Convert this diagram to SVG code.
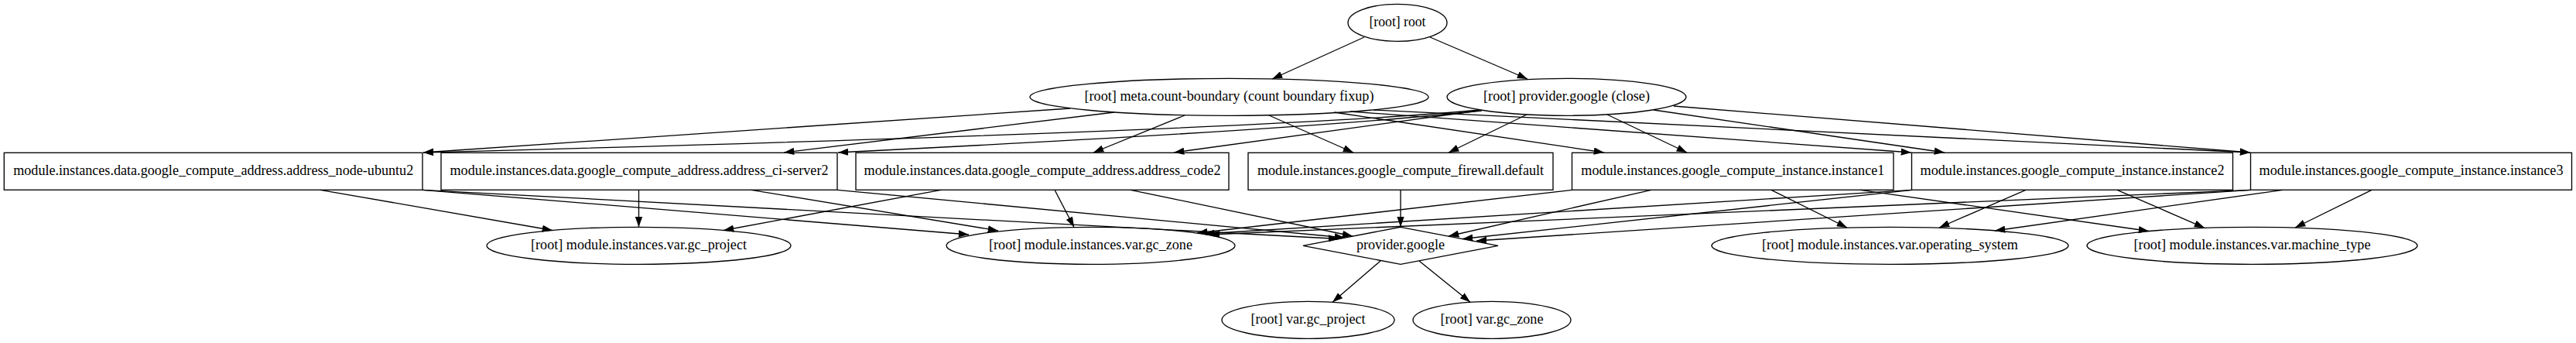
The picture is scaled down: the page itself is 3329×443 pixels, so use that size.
<svg xmlns="http://www.w3.org/2000/svg" width="3329" height="443" viewBox="0 0 3329 443">
<style>
.n ellipse,.n rect,.n polygon{fill:none;stroke:#000;stroke-width:1.33}
.n text{font-family:"Liberation Serif",Times,serif;font-size:18.67px;text-anchor:middle;fill:#000}
.e path{fill:none;stroke:#000;stroke-width:1.33;marker-end:url(#ah)}
</style>
<defs>
<marker id="ah" markerUnits="userSpaceOnUse" viewBox="0 0 13.3 9.3" markerWidth="13.3" markerHeight="9.3" refX="13.3" refY="4.65" orient="auto">
<path d="M0,0 L13.3,4.65 L0,9.3 z" fill="#000"/>
</marker>
</defs>
<rect width="3329" height="443" fill="#fff"/>
<g id="edges" class="e">
<path d="M1763,48 L1644,102"/>
<path d="M1848,48 L1974,102"/>
<path d="M1383,140 L547,197"/>
<path d="M1912,142 C1700,162 1200,180 547,197"/>
<path d="M1440,145 L1013,197"/>
<path d="M1915,143 C1700,166 1300,186 1083,197"/>
<path d="M1531,149 L1413,197"/>
<path d="M1910,143 L1517,197"/>
<path d="M1640,149 L1749,197"/>
<path d="M1973,148 L1872,197"/>
<path d="M1724,145 L2073,197"/>
<path d="M2077,148 L2180,197"/>
<path d="M1745,144 L2470,197"/>
<path d="M2137,142 L2513,197"/>
<path d="M1775,142 L2908,197"/>
<path d="M2163,137 L2908,197"/>
<path d="M414,245.3 L714,297.5"/>
<path d="M546,245.3 L1252,303"/>
<path d="M546,245.3 L1730,308.5"/>
<path d="M825.5,245.3 L825.5,293.3"/>
<path d="M971,245.3 L1290,298"/>
<path d="M1082,245.3 L1738,307"/>
<path d="M1216,245.3 L935,297.5"/>
<path d="M1363,245.3 L1388,293.5"/>
<path d="M1461,245.3 L1748,305"/>
<path d="M1810,245.3 L1810,293.3"/>
<path d="M2032,245.3 L1547,301"/>
<path d="M2134,245.3 L1872,305"/>
<path d="M2289,245.3 L2387,294"/>
<path d="M2404,245.3 L2777,298.5"/>
<path d="M2471,245.3 L1556,302"/>
<path d="M2471,245.3 L1890,308.5"/>
<path d="M2618,245.3 L2506,294"/>
<path d="M2736,245.3 L2849,294.3"/>
<path d="M2909,245.3 L1563,303"/>
<path d="M2909,245.3 L1908,311"/>
<path d="M2950,245.3 L2578,298"/>
<path d="M3065,245.3 L2966,294"/>
<path d="M1784,337 L1722,390.3"/>
<path d="M1834,337 L1900,390.2"/>
</g>
<g id="root" class="n"><ellipse cx="1806" cy="29.3" rx="64" ry="24"/><text x="1806" y="34.3" textLength="73" lengthAdjust="spacingAndGlyphs">[root] root</text></g>
<g id="meta" class="n"><ellipse cx="1588.5" cy="125.3" rx="257.5" ry="24"/><text x="1588.5" y="130.3" textLength="374" lengthAdjust="spacingAndGlyphs">[root] meta.count-boundary (count boundary fixup)</text></g>
<g id="close" class="n"><ellipse cx="2024.5" cy="125.3" rx="154.5" ry="24"/><text x="2024.5" y="130.3" textLength="215" lengthAdjust="spacingAndGlyphs">[root] provider.google (close)</text></g>
<g id="ubuntu2" class="n"><rect x="5.3" y="197.3" width="540.7" height="48"/><text x="275.7" y="226.3" textLength="517" lengthAdjust="spacingAndGlyphs">module.instances.data.google_compute_address.address_node-ubuntu2</text></g>
<g id="ciserver2" class="n"><rect x="570" y="197.3" width="512" height="48"/><text x="826" y="226.3" textLength="489" lengthAdjust="spacingAndGlyphs">module.instances.data.google_compute_address.address_ci-server2</text></g>
<g id="code2" class="n"><rect x="1106" y="197.3" width="482" height="48"/><text x="1347" y="226.3" textLength="461" lengthAdjust="spacingAndGlyphs">module.instances.data.google_compute_address.address_code2</text></g>
<g id="firewall" class="n"><rect x="1613" y="197.3" width="394" height="48"/><text x="1810" y="226.3" textLength="370" lengthAdjust="spacingAndGlyphs">module.instances.google_compute_firewall.default</text></g>
<g id="instance1" class="n"><rect x="2031.5" y="197.3" width="415.5" height="48"/><text x="2239.3" y="226.3" textLength="392" lengthAdjust="spacingAndGlyphs">module.instances.google_compute_instance.instance1</text></g>
<g id="instance2" class="n"><rect x="2470.5" y="197.3" width="415" height="48"/><text x="2678" y="226.3" textLength="393" lengthAdjust="spacingAndGlyphs">module.instances.google_compute_instance.instance2</text></g>
<g id="instance3" class="n"><rect x="2908.5" y="197.3" width="415" height="48"/><text x="3116" y="226.3" textLength="393" lengthAdjust="spacingAndGlyphs">module.instances.google_compute_instance.instance3</text></g>
<g id="mod_gc_project" class="n"><ellipse cx="825.5" cy="317.3" rx="196.5" ry="24"/><text x="825.5" y="322.3" textLength="279" lengthAdjust="spacingAndGlyphs">[root] module.instances.var.gc_project</text></g>
<g id="mod_gc_zone" class="n"><ellipse cx="1409.5" cy="317.3" rx="186.5" ry="24"/><text x="1409.5" y="322.3" textLength="263" lengthAdjust="spacingAndGlyphs">[root] module.instances.var.gc_zone</text></g>
<g id="provider" class="n"><polygon points="1810,293.3 1936,317.3 1810,341.3 1684,317.3"/><text x="1810" y="322.3" textLength="114" lengthAdjust="spacingAndGlyphs">provider.google</text></g>
<g id="os" class="n"><ellipse cx="2442.5" cy="317.3" rx="230.5" ry="24"/><text x="2442.5" y="322.3" textLength="331" lengthAdjust="spacingAndGlyphs">[root] module.instances.var.operating_system</text></g>
<g id="machine" class="n"><ellipse cx="2910.5" cy="317.3" rx="213.5" ry="24"/><text x="2910.5" y="322.3" textLength="306" lengthAdjust="spacingAndGlyphs">[root] module.instances.var.machine_type</text></g>
<g id="var_gc_project" class="n"><ellipse cx="1690.5" cy="413.3" rx="111.5" ry="24"/><text x="1690.5" y="418.3" textLength="148" lengthAdjust="spacingAndGlyphs">[root] var.gc_project</text></g>
<g id="var_gc_zone" class="n"><ellipse cx="1928" cy="413.3" rx="102" ry="24"/><text x="1928" y="418.3" textLength="133" lengthAdjust="spacingAndGlyphs">[root] var.gc_zone</text></g>
</svg>
